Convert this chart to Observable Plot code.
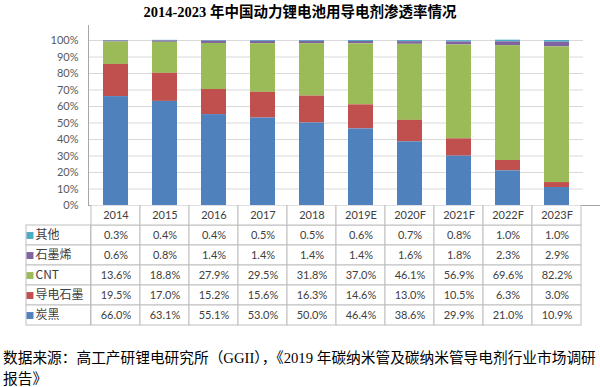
<!DOCTYPE html>
<html><head><meta charset="utf-8">
<script src="https://cdn.jsdelivr.net/npm/d3@7"></script>
<script src="https://cdn.jsdelivr.net/npm/@observablehq/plot@0.6"></script>
<style>
body{margin:0;background:#fff;width:600px;height:387px;overflow:hidden;}
#title{height:25px;line-height:24px;text-align:center;font-family:"Liberation Serif","Noto Sans CJK SC",serif;font-weight:bold;font-size:14.5px;color:#000;}
#chart svg,#table svg{display:block;}
#table{margin-top:-9px;position:relative;}
#caption{padding:22px 0 0 3px;font-family:"Liberation Serif","Noto Sans CJK SC",serif;font-size:14.7px;line-height:21px;color:#000;white-space:nowrap;}
</style></head>
<body>
<div id="title">2014-2023 年中国动力锂电池用导电剂渗透率情况</div>
<div id="chart"></div>
<div id="table"></div>
<div id="caption">数据来源：高工产研锂电研究所（GGII），《2019 年碳纳米管及碳纳米管导电剂行业市场调研<br>报告》</div>
<script>
const years = ["2014","2015","2016","2017","2018","2019E","2020F","2021F","2022F","2023F"];
const series = ["其他","石墨烯","CNT","导电石墨","炭黑"];
const colors = ["#4BACC6","#8064A2","#9BBB59","#C0504D","#4F81BD"];
const other = [0.3,0.4,0.4,0.5,0.5,0.6,0.7,0.8,1.0,1.0];
const graphene = [0.6,0.8,1.4,1.4,1.4,1.4,1.6,1.8,2.3,2.9];
const cnt = [13.6,18.8,27.9,29.5,31.8,37.0,46.1,56.9,69.6,82.2];
const graphite = [19.5,17.0,15.2,15.6,16.3,14.6,13.0,10.5,6.3,3.0];
const carbonBlack = [66.0,63.1,55.1,53.0,50.0,46.4,38.6,29.9,21.0,10.9];
const yTicks = [0,0.1,0.2,0.3,0.4,0.5,0.6,0.7,0.8,0.9,1];

const valueArrays = [other, graphene, cnt, graphite, carbonBlack];
const rows = series.flatMap((s, i) => years.map((y, j) => ({series: s, year: y, value: valueArrays[i][j]})));
const stackOrder = [...series].reverse();
const grid = "#d9d9d9", border = "#bfbfbf", axisLine = "#a6a6a6";

const chart = Plot.plot({
  width: 600, height: 189,
  marginTop: 15, marginBottom: 9, marginLeft: 88, marginRight: 17,
  style: {fontFamily: "Lato, 'Liberation Sans', sans-serif", fontSize: "11px", color: "#595959", background: "white"},
  x: {domain: years, paddingInner: 0.5, paddingOuter: 0.25, axis: null},
  y: {domain: [0, 1], ticks: yTicks, tickFormat: d3.format(".0%"), tickSize: 0, tickPadding: 10, label: null},
  color: {domain: series, range: colors},
  marks: [
    Plot.gridY(yTicks, {stroke: grid, strokeOpacity: 1}),
    Plot.barY(rows, {x: "year", y: d => d.value / 100, fill: "series", order: stackOrder}),
    Plot.frame({stroke: axisLine, insetRight: -40, insetTop: -40})
  ]
});
document.getElementById("chart").append(chart);

const tableRows = ["header", ...series];
const table = Plot.plot({
  width: 600, height: 121,
  marginTop: 0, marginBottom: 1, marginLeft: 88, marginRight: 17,
  style: {fontFamily: "Lato, 'Liberation Sans', sans-serif", fontSize: "11px", color: "#404040", background: "transparent"},
  x: {domain: years, padding: 0, axis: null},
  y: {domain: tableRows, padding: 0, axis: null},
  color: {domain: series, range: colors},
  marks: [
    Plot.cell(rows, {x: "year", y: "series", fill: "white", stroke: border, inset: 0}),
    Plot.cell(years, {x: d => d, y: () => "header", fill: "white", stroke: border, inset: 0}),
    Plot.cell(series, {x: () => years[0], y: d => d, dx: -65, inset: 0, insetRight: -15.5, fill: "white", stroke: border}),
    Plot.text(rows, {x: "year", y: "series", text: d => d.value.toFixed(1) + "%"}),
    Plot.text(years, {x: d => d, y: () => "header", text: d => d}),
    Plot.dot(series, {y: d => d, frameAnchor: "left", dx: -58.5, symbol: "square", r: 3.9, fill: d => d, stroke: null}),
    Plot.text(series, {y: d => d, text: d => d, frameAnchor: "left", dx: -53, textAnchor: "start",
      fontFamily: "'Noto Sans CJK SC', sans-serif", fontSize: 12})
  ]
});
document.getElementById("table").append(table);
</script>
</body></html>
